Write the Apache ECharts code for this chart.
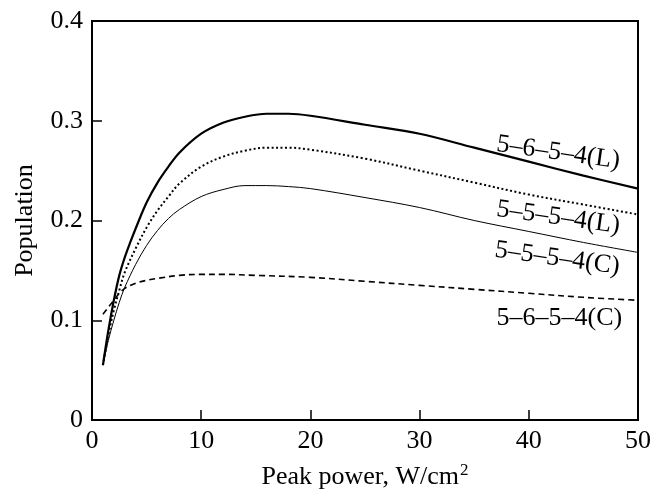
<!DOCTYPE html>
<html>
<head>
<meta charset="utf-8">
<script src="https://cdn.jsdelivr.net/npm/echarts@6/dist/echarts.min.js"></script>
<style>html,body{margin:0;padding:0;background:#fff}#c{width:664px;height:493px}</style>
</head>
<body>
<div id="c"></div>
<script>
// Data
var xL1 = [1, 1.5, 2, 2.5, 3, 3.5, 4, 5, 6, 7, 8, 10, 12, 14, 16, 18, 20, 25, 30, 35, 40, 45, 50];
var y5654L = [0.055, 0.09, 0.12, 0.145, 0.163, 0.178, 0.192, 0.218, 0.238, 0.254, 0.268, 0.287, 0.298, 0.304, 0.307, 0.307, 0.305, 0.296, 0.287, 0.273, 0.259, 0.245, 0.232];
var xL2 = [1, 1.5, 2, 2.5, 3, 4, 5, 6, 7, 8, 10, 12, 14, 16, 18, 20, 25, 30, 35, 40, 45, 50];
var y5554L = [0.055, 0.085, 0.11, 0.13, 0.148, 0.172, 0.193, 0.21, 0.224, 0.237, 0.254, 0.264, 0.27, 0.273, 0.273, 0.271, 0.262, 0.25, 0.238, 0.226, 0.216, 0.206];
var xC1 = [1, 1.5, 2, 2.5, 3, 4, 5, 6, 7, 8, 10, 12, 14, 16, 18, 20, 25, 30, 35, 40, 45, 50];
var y5554C = [0.055, 0.08, 0.1, 0.118, 0.133, 0.156, 0.175, 0.19, 0.202, 0.211, 0.224, 0.231, 0.235, 0.235, 0.234, 0.232, 0.223, 0.213, 0.2, 0.189, 0.178, 0.168];
var xC2 = [1, 1.5, 2, 2.5, 3, 4, 5, 6, 8, 10, 12, 15, 20, 25, 30, 35, 40, 45, 50];
var y5654C = [0.106, 0.113, 0.12, 0.127, 0.132, 0.137, 0.14, 0.142, 0.145, 0.146, 0.146, 0.145, 0.143, 0.139, 0.135, 0.131, 0.127, 0.123, 0.12];
var curveNames = ['5–6–5–4(L)', '5–5–5–4(L)', '5–5–5–4(C)', '5–6–5–4(C)'];
var labelCoords = [[42.7, 0.268], [42.7, 0.203], [42.6, 0.162], [42.8, 0.102]];
var labelAngles = [-8, -8, -8, 0];
var xTicks = [0, 10, 20, 30, 40, 50];
var yTicks = [0, 0.1, 0.2, 0.3, 0.4];

function pairs(xs, ys) { return xs.map(function (x, i) { return [x, ys[i]]; }); }

var FONT = '"Liberation Serif", "Times New Roman", serif';
var chart = echarts.init(document.getElementById('c'), null, {renderer: 'canvas'});

var styles = [
  {width: 2.2, type: 'solid'},
  {width: 2, type: [2, 2.5]},
  {width: 1, type: 'solid'},
  {width: 1.6, type: [6, 4]}
];
var datas = [pairs(xL1, y5654L), pairs(xL2, y5554L), pairs(xC1, y5554C), pairs(xC2, y5654C)];

var series = datas.map(function (d, i) {
  return {
    type: 'line',
    name: curveNames[i],
    data: d,
    smooth: 0.35,
    symbol: 'none',
    lineStyle: {color: '#000', width: styles[i].width, type: styles[i].type},
    markPoint: {
      symbol: 'circle',
      symbolSize: 0,
      silent: true,
      data: [{coord: labelCoords[i], value: curveNames[i]}],
      label: {
        show: true,
        position: 'inside',
        formatter: curveNames[i],
        rotate: labelAngles[i],
        color: '#000',
        fontFamily: FONT,
        fontSize: 26
      }
    }
  };
});

chart.setOption({
  animation: false,
  backgroundColor: '#fff',
  grid: {left: 92, right: 26, top: 21, bottom: 73, containLabel: false, outerBoundsMode: 'none', show: true, borderColor: '#000', borderWidth: 2, backgroundColor: 'transparent'},
  xAxis: {
    type: 'value', min: xTicks[0], max: xTicks[xTicks.length - 1], interval: 10,
    name: '{a|Peak power, W/cm}{b|2}',
    nameLocation: 'middle', nameGap: 42,
    nameTextStyle: {
      color: '#000', fontFamily: FONT,
      rich: {
        a: {fontSize: 26, fontFamily: FONT, color: '#000', lineHeight: 30},
        b: {fontSize: 17, fontFamily: FONT, color: '#000', verticalAlign: 'top', lineHeight: 30, padding: [0, 0, 0, 1]}
      }
    },
    axisLine: {lineStyle: {color: '#000', width: 2}},
    axisTick: {inside: true, length: 10, lineStyle: {color: '#000', width: 1.5}},
    axisLabel: {color: '#000', fontFamily: FONT, fontSize: 26, margin: 8},
    splitLine: {show: false}
  },
  yAxis: {
    type: 'value', min: yTicks[0], max: yTicks[yTicks.length - 1], interval: 0.1,
    name: 'Population', nameLocation: 'middle', nameGap: 54,
    nameTextStyle: {color: '#000', fontFamily: FONT, fontSize: 26},
    axisLine: {lineStyle: {color: '#000', width: 2}},
    axisTick: {inside: true, length: 10, lineStyle: {color: '#000', width: 1.5}},
    axisLabel: {color: '#000', fontFamily: FONT, fontSize: 26, margin: 9},
    splitLine: {show: false}
  },
  series: series
});
</script>
</body>
</html>
